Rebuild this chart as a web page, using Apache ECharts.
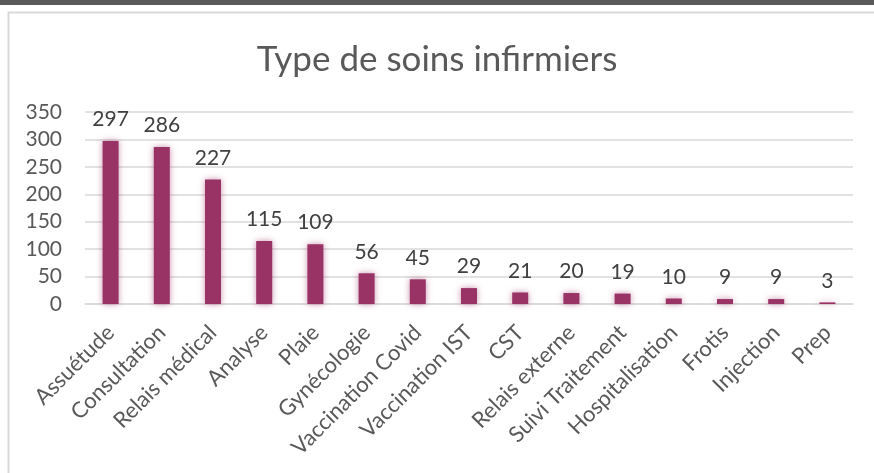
<!DOCTYPE html>
<html>
<head>
<meta charset="utf-8">
<script src="https://cdn.jsdelivr.net/npm/echarts@6/dist/echarts.min.js"></script>
<style>
  html, body { margin: 0; padding: 0; background: #fff; }
  #chart { width: 874px; height: 473px; }
</style>
</head>
<body>
<div id="chart"></div>
<script>
var categories = ['Assuétude', 'Consultation', 'Relais médical', 'Analyse', 'Plaie', 'Gynécologie',
  'Vaccination Covid', 'Vaccination IST', 'CST', 'Relais externe', 'Suivi Traitement',
  'Hospitalisation', 'Frotis', 'Injection', 'Prep']
var values = [297, 286, 227, 115, 109, 56, 45, 29, 21, 20, 19, 10, 9, 9, 3]
var yTicks = [0, 50, 100, 150, 200, 250, 300, 350]

var font = 'Lato, "Open Sans", sans-serif'
var textColor = '#595959'

var chart = echarts.init(document.getElementById('chart'))
chart.setOption({
  backgroundColor: '#fff',
  animation: false,
  title: {
    text: 'Type de soins infirmiers',
    left: 'center',
    top: 37,
    textStyle: { fontFamily: font, fontSize: 35, fontWeight: 'normal', color: textColor }
  },
  graphic: [
    // dark band on top of the screenshot
    { type: 'rect', shape: { x: 0, y: 0, width: 874, height: 5 }, style: { fill: '#595959' } },
    // chart frame
    { type: 'rect', shape: { x: 8.5, y: 12.5, width: 880, height: 480 }, style: { fill: 'none', stroke: '#d9d9d9', lineWidth: 2 } }
  ],
  grid: { left: 85, right: 21, top: 112, bottom: 169, containLabel: false },
  xAxis: {
    type: 'category',
    data: categories,
    axisTick: { show: false },
    axisLine: { lineStyle: { color: '#d9d9d9', width: 1.5 } },
    axisLabel: {
      rotate: 45,
      margin: 25,
      interval: 0,
      fontFamily: font,
      fontSize: 22,
      color: textColor
    }
  },
  yAxis: {
    type: 'value',
    min: yTicks[0],
    max: yTicks[yTicks.length - 1],
    interval: 50,
    axisLine: { show: false },
    axisTick: { show: false },
    axisLabel: { margin: 23, fontFamily: font, fontSize: 21, color: textColor },
    splitLine: { lineStyle: { color: '#d9d9d9', width: 1.5 } }
  },
  series: [{
    type: 'bar',
    data: values,
    barWidth: 16,
    itemStyle: {
      color: '#993366',
      shadowColor: 'rgba(153,51,102,0.55)',
      shadowBlur: 6
    },
    label: {
      show: true,
      position: 'top',
      distance: 11,
      fontFamily: font,
      fontSize: 21,
      color: '#404040'
    }
  }]
})
</script>
</body>
</html>
